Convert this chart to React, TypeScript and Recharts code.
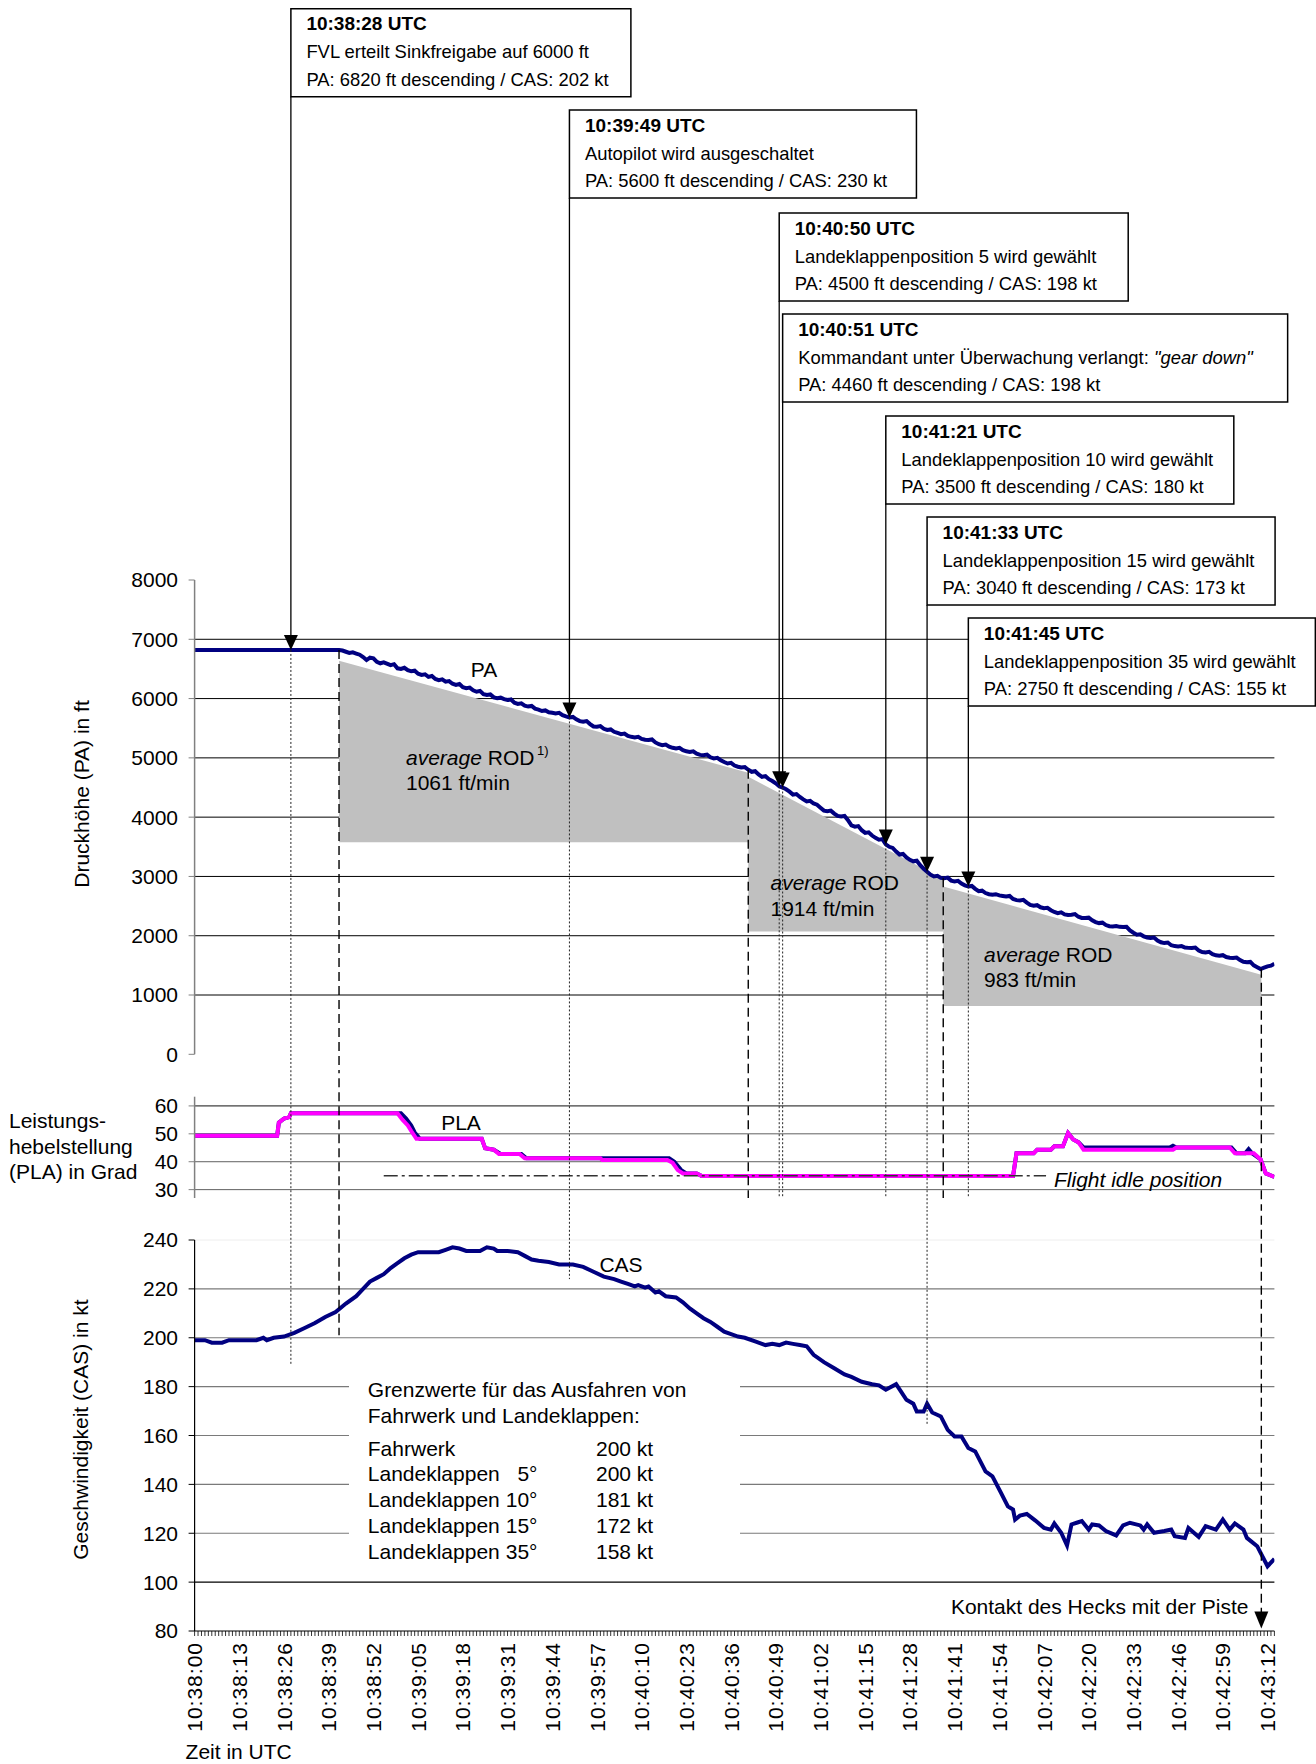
import React from 'react';
import { ComposedChart, Line, Area, XAxis, YAxis, CartesianGrid, ReferenceLine, ReferenceDot } from 'recharts';

const FONT = '"Liberation Sans", Arial, Helvetica, sans-serif';

// ---- time axis: seconds after 10:38:00 UTC ----
const X_DOMAIN: [number, number] = [0, 314];
const X_TICKS: number[] = Array.from({ length: 315 }, (_, i) => i);
const LABEL_STEP = 13;

// ---- PA (ft) [t, ft] ----
const PA_POINTS: [number, number][] = [
  [0, 6820], [20, 6820], [42, 6820], [43, 6810], [44, 6790], [45, 6770], [46, 6780], [47, 6760], [48, 6740], [49, 6700],
  [50, 6650], [51, 6690], [52, 6680], [53, 6620], [54, 6595], [55, 6610], [57, 6565], [58, 6580], [59, 6510], [60, 6500],
  [61, 6520], [62, 6480], [63, 6460], [64, 6470], [65, 6420], [66, 6400], [67, 6410], [68, 6365], [69, 6380], [70, 6330],
  [71, 6310], [72, 6325], [73, 6285], [74, 6295], [75, 6250], [76, 6230], [77, 6245], [78, 6190], [79, 6175], [80, 6185],
  [81, 6140], [82, 6115], [83, 6130], [84, 6075], [85, 6060], [86, 6070], [87, 6020], [88, 6005], [89, 6015], [90, 5990],
  [91, 5975], [92, 5985], [93, 5930], [94, 5910], [95, 5920], [96, 5880], [97, 5865], [98, 5875], [99, 5830], [100, 5815],
  [101, 5790], [102, 5800], [103, 5770], [104, 5760], [105, 5750], [106, 5760], [107, 5720], [108, 5700], [109, 5682], [110, 5690],
  [111, 5650], [112, 5620], [113, 5608], [114, 5620], [115, 5570], [116, 5530], [117, 5524], [118, 5535], [119, 5490], [120, 5470],
  [121, 5480], [122, 5440], [123, 5420], [124, 5400], [125, 5410], [126, 5370], [127, 5355], [128, 5345], [129, 5355], [130, 5320],
  [131, 5305], [132, 5300], [133, 5310], [134, 5260], [135, 5230], [136, 5215], [137, 5225], [138, 5190], [139, 5170], [140, 5160],
  [141, 5170], [142, 5130], [143, 5110], [144, 5100], [145, 5110], [146, 5070], [147, 5050], [148, 5045], [149, 5055], [150, 5010],
  [151, 4990], [152, 5000], [153, 4960], [154, 4930], [155, 4905], [156, 4915], [157, 4870], [158, 4850], [159, 4837], [160, 4845],
  [161, 4800], [162, 4765], [163, 4775], [164, 4720], [165, 4680], [166, 4690], [167, 4640], [168, 4610], [169, 4570], [170, 4520],
  [171, 4500], [172, 4470], [173, 4430], [174, 4380], [175, 4390], [176, 4340], [177, 4300], [178, 4265], [179, 4275], [180, 4230],
  [181, 4210], [182, 4160], [183, 4110], [184, 4100], [185, 4110], [186, 4060], [187, 4020], [188, 4010], [189, 4020], [190, 3950],
  [191, 3860], [192, 3840], [193, 3850], [194, 3780], [195, 3735], [196, 3745], [197, 3690], [198, 3650], [199, 3620], [200, 3630],
  [201, 3540], [202, 3500], [203, 3480], [204, 3420], [205, 3370], [206, 3380], [207, 3320], [208, 3280], [209, 3255], [210, 3265],
  [211, 3190], [212, 3130], [213, 3080], [214, 3030], [215, 3000], [216, 3010], [217, 2975], [218, 2970], [219, 2980], [220, 2930],
  [221, 2915], [222, 2925], [223, 2880], [224, 2850], [225, 2830], [226, 2840], [227, 2790], [228, 2750], [229, 2760], [230, 2720],
  [231, 2700], [232, 2690], [233, 2700], [234, 2680], [235, 2670], [236, 2660], [237, 2670], [238, 2620], [239, 2600], [240, 2595],
  [241, 2605], [242, 2560], [243, 2520], [244, 2505], [245, 2515], [246, 2480], [247, 2465], [248, 2470], [249, 2430], [250, 2400],
  [251, 2380], [252, 2395], [253, 2360], [254, 2350], [255, 2354], [256, 2365], [257, 2320], [258, 2300], [259, 2298], [260, 2305],
  [261, 2260], [262, 2230], [263, 2213], [264, 2220], [265, 2180], [266, 2160], [267, 2157], [268, 2165], [269, 2150], [270, 2146],
  [271, 2150], [272, 2090], [273, 2050], [274, 2017], [275, 2025], [276, 1990], [277, 1970], [278, 1961], [279, 1970], [280, 1920],
  [281, 1890], [282, 1876], [283, 1885], [284, 1840], [285, 1825], [286, 1820], [287, 1825], [288, 1800], [289, 1795], [290, 1792],
  [291, 1800], [292, 1750], [293, 1725], [294, 1719], [295, 1728], [296, 1690], [297, 1670], [298, 1663], [299, 1672], [300, 1640],
  [301, 1630], [302, 1624], [303, 1632], [304, 1590], [305, 1560], [306, 1551], [307, 1558], [308, 1500], [309, 1470], [310, 1438],
  [311, 1460], [312, 1483], [313, 1495], [314, 1528],
];

// ---- average ROD segments (shaded) : [tStart, topStart, tEnd, topEnd, bottom] ----
const ROD_SEGMENTS: [number, number, number, number, number][] = [
  [42, 6640, 161, 4750, 3575],
  [161, 4680, 217.7, 2955, 2070],
  [217.7, 2830, 310.2, 1343, 815],
];
const ROD_TEXT = ['1061 ft/min', '1914 ft/min', '983 ft/min'];

// ---- PLA (deg) [t, deg] ----
const PLA_ENGINE_1: [number, number][] = [
  [0, 49.3], [24, 49.3], [24.5, 54], [26, 55.5], [27.5, 56], [28, 57.4], [60, 57.4], [61.5, 55.5], [63, 53], [64, 50.5],
  [65.5, 48.2], [83.5, 48.2], [84.5, 44.8], [87, 44.3], [89, 42.8], [95, 42.8], [96.5, 41.2], [138, 41.2], [139.5, 40],
  [141.5, 37], [143, 35.8], [146, 35.8], [147.5, 34.9], [238, 34.9], [239, 43], [244, 43], [245, 44.3], [249, 44.3],
  [250, 45.5], [252.5, 45.5], [254, 50.3], [255.5, 48], [257, 47], [258.5, 45.1], [283.5, 45.1], [284.5, 45.7], [285.5, 45.1],
  [301.5, 45.1], [303, 43], [305.5, 43], [306.5, 44.5], [307.5, 43], [310, 40.8], [311.5, 35.8], [314, 34.6],
];
const PLA_ENGINE_2: [number, number][] = [
  [0, 49.3], [24, 49.3], [24.5, 54], [26, 55.5], [27.5, 56], [28, 57.4], [59, 57.4], [60.5, 55], [62, 53], [63, 51],
  [64.5, 48.2], [83.5, 48.2], [84.5, 44.8], [87, 44.3], [88.5, 42.8], [94.5, 42.8], [96, 41.2], [118, 41.2], [118.5, 40.6],
  [137.5, 40.6], [139, 39.6], [140.5, 37], [142, 35.8], [146, 35.8], [147.5, 34.9], [238, 34.9], [239, 43], [244, 43],
  [245, 44.3], [249, 44.3], [250, 45.5], [252.5, 45.5], [254, 50.3], [255.5, 48], [257, 47], [258.5, 44.3], [284.5, 44.3],
  [285.5, 45.1], [301, 45.1], [302.5, 43], [308, 43], [310, 40.8], [311.5, 35.8], [314, 34.6],
];
const FLIGHT_IDLE: [number, number][] = [[55, 35], [247.6, 35]];

// ---- CAS (kt) [t, kt] ----
const CAS_POINTS: [number, number][] = [
  [0, 199], [3, 199], [5, 198], [8, 198], [10, 199], [14, 199], [18, 199], [20, 200], [21, 199], [23, 200],
  [26, 200.5], [29, 202], [32, 204], [35, 206], [38, 208.5], [41, 210.5], [44, 214], [47, 217], [49, 220], [51, 223],
  [53, 224.5], [55, 226], [57, 228.5], [59, 230.5], [61, 232.5], [63, 234], [65, 235], [68, 235], [71, 235], [73, 236],
  [75, 237], [77, 236.5], [79, 235.5], [83, 235.5], [85, 237], [87, 236.5], [88, 235.5], [91, 235.5], [94, 235], [96, 233.5],
  [98, 232], [100, 231.5], [103, 231], [106, 230], [110, 230], [113, 229], [116, 227], [119, 225], [122, 224], [124, 223],
  [126, 222], [128, 221], [129, 221.5], [131, 220.5], [132, 221], [134, 218.5], [135, 219], [137, 217], [140, 216.5], [142, 214.5],
  [144, 212], [146, 210], [148, 208], [150, 206.5], [152, 204.5], [154, 202.5], [156, 201.5], [158, 200.5], [160, 200], [163, 198.5],
  [166, 197], [168, 197.5], [170, 197], [172, 198], [174, 197.5], [176, 197], [178, 196.5], [180, 193], [183, 190], [186, 187.5],
  [189, 185], [191, 184], [194, 182], [197, 181], [199, 180.5], [201, 178.7], [204, 181], [207, 174.6], [209, 173], [210, 169.8],
  [212, 169.8], [213, 173], [214.5, 169.4], [217, 167.8], [219, 162.3], [221, 159.6], [223, 159.6], [225, 154.9], [227, 153.5], [230, 145.3],
  [232, 143.3], [234.5, 136.5], [236.5, 131], [238, 129.7], [238.6, 125.6], [240, 127.2], [242, 127.9], [244.5, 125.2], [247, 122.2], [249, 121.5],
  [250, 124], [252, 120.2], [253.7, 115], [255, 123.6], [256.5, 124.3], [258, 125], [260, 121.5], [261, 123.6], [263, 123.2], [265, 120.9],
  [268, 119.1], [270, 123.2], [272, 124.3], [275, 123.2], [276, 121.5], [277, 123.6], [279, 120.2], [282, 120.9], [284, 121.5], [285, 118.8],
  [288, 118.1], [289, 122.2], [292, 118.5], [294, 122.9], [297, 121.5], [299, 125.6], [301, 121.5], [302.5, 124], [305, 121.5], [306, 118.1],
  [309, 114.7], [312, 106.5], [314, 109.5],
];

// ---- events (annotation boxes) ----
const EVENT_T = [28, 109, 170, 171, 201, 213, 225];
const EVENT_TITLE = ['10:38:28 UTC', '10:39:49 UTC', '10:40:50 UTC', '10:40:51 UTC', '10:41:21 UTC', '10:41:33 UTC', '10:41:45 UTC'];
const EVENT_TEXT = [
  'FVL erteilt Sinkfreigabe auf 6000 ft',
  'Autopilot wird ausgeschaltet',
  'Landeklappenposition 5 wird gewählt',
  'Kommandant unter Überwachung verlangt: ',
  'Landeklappenposition 10 wird gewählt',
  'Landeklappenposition 15 wird gewählt',
  'Landeklappenposition 35 wird gewählt',
];
const EVENT_QUOTE = ['', '', '', '"gear down"', '', '', ''];
const EVENT_STATE = [
  'PA: 6820 ft descending / CAS: 202 kt',
  'PA: 5600 ft descending / CAS: 230 kt',
  'PA: 4500 ft descending / CAS: 198 kt',
  'PA: 4460 ft descending / CAS: 198 kt',
  'PA: 3500 ft descending / CAS: 180 kt',
  'PA: 3040 ft descending / CAS: 173 kt',
  'PA: 2750 ft descending / CAS: 155 kt',
];
// where the event's guide line ends lower down: 'pla' = bottom of PLA panel, number = CAS kt
const EVENT_END: (string | number)[] = [189, 224, 'pla', 'pla', 'pla', 164, 'pla'];
const ROD_END: (string | number)[] = [201, 'pla', 'pla', 'touch'];
const TOUCHDOWN_T = 310.2;

// ---- ticks / grid ----
const PA_TICKS = [0, 1000, 2000, 3000, 4000, 5000, 6000, 7000, 8000];
const PA_GRID = [1000, 2000, 3000, 4000, 5000, 6000, 7000];
const PLA_TICKS = [30, 40, 50, 60];
const CAS_TICKS = [80, 100, 120, 140, 160, 180, 200, 220, 240];
const CAS_GRID = [120, 140, 160, 180, 200, 220];

const LIMIT_NAMES = ['Fahrwerk', 'Landeklappen', 'Landeklappen', 'Landeklappen', 'Landeklappen'];
const LIMIT_DEG = ['', '5°', '10°', '15°', '35°'];
const LIMIT_KT = ['200 kt', '200 kt', '181 kt', '172 kt', '158 kt'];

// ---- layout (pixels) ----
const W = 1308;
const PLOT_LEFT = 186.6;
const PLOT_W = 1079.8;
const YW = 60;
const ML = PLOT_LEFT - YW;
const MR = W - PLOT_LEFT - PLOT_W;
const PA_H = 1062;
const PLA_H = 140;
const CAS_H = 554;
const TOTAL_H = PA_H + PLA_H + CAS_H;
const BOX_TOP = [0.75, 102, 205, 306, 408, 509, 610];
const BOX_W = [340, 347, 349, 505, 348, 348, 347];
const BOX_H = 88;

const paData = PA_POINTS.map(([t, v]) => ({ t, v }));
const casData = CAS_POINTS.map(([t, v]) => ({ t, v }));
const pla1 = PLA_ENGINE_1.map(([t, v]) => ({ t, v }));
const pla2 = PLA_ENGINE_2.map(([t, v]) => ({ t, v }));
const idle = FLIGHT_IDLE.map(([t, v]) => ({ t, v }));
const rodData = ROD_SEGMENTS.map(([t0, y0, t1, y1, b]) => [
  { t: t0, r: [b, y0] },
  { t: t1, r: [b, y1] },
]);

const paAt = (t: number) => {
  for (let i = 0; i < PA_POINTS.length - 1; i++) {
    const [ta, va] = PA_POINTS[i];
    const [tb, vb] = PA_POINTS[i + 1];
    if (t >= ta && t <= tb) return va + ((vb - va) * (t - ta)) / (tb - ta);
  }
  return PA_POINTS[PA_POINTS.length - 1][1];
};

const fmtTime = (t: number) => {
  const total = 38 * 60 + t;
  const mm = Math.floor(total / 60);
  const ss = total % 60;
  return `10:${String(mm).padStart(2, '0')}:${String(ss).padStart(2, '0')}`;
};

const DOTTED = { stroke: '#222', strokeWidth: 1, strokeDasharray: '2 2' };
const DASHED = { stroke: '#000', strokeWidth: 1.4, strokeDasharray: '9 5' };

const yTick = { fontSize: 21, fill: '#000', fontFamily: FONT };

const TimeTick = (props: any) => {
  const { x, y, payload } = props;
  const t = payload.value;
  if (t % LABEL_STEP !== 0) return <g />;
  return (
    <text
      x={0}
      y={0}
      transform={`translate(${x},${y}) rotate(-90)`}
      textAnchor="end"
      dy="0.36em"
      fontSize={21}
      letterSpacing={1}
      fontFamily={FONT}
      fill="#000"
    >
      {fmtTime(t)}
    </text>
  );
};

const makeBox = (i: number) => (props: any) => {
  const { cx, cy } = props;
  const top = BOX_TOP[i];
  return (
    <g>
      <line x1={cx} y1={top + BOX_H} x2={cx} y2={cy - 14} stroke="#000" strokeWidth={1.3} />
      <polygon points={`${cx - 7},${cy - 15} ${cx + 7},${cy - 15} ${cx},${cy}`} fill="#000" />
      <rect x={cx} y={top} width={BOX_W[i]} height={BOX_H} fill="#fff" stroke="#000" strokeWidth={1.5} />
      <text x={cx + 15.5} y={top + 21.5} fontSize={19} fontWeight="bold" fontFamily={FONT} fill="#000">
        {EVENT_TITLE[i]}
      </text>
      <text x={cx + 15.5} y={top + 49.5} fontSize={18.4} fontFamily={FONT} fill="#000">
        {EVENT_TEXT[i]}
        {EVENT_QUOTE[i] ? <tspan fontStyle="italic">{EVENT_QUOTE[i]}</tspan> : null}
      </text>
      <text x={cx + 15.5} y={top + 77} fontSize={18.4} fontFamily={FONT} fill="#000">
        {EVENT_STATE[i]}
      </text>
    </g>
  );
};

const downArrow = (props: any) => {
  const { cx, cy } = props;
  return <polygon points={`${cx - 7},${cy - 17} ${cx + 7},${cy - 17} ${cx},${cy}`} fill="#000" />;
};

const vSeg = (t: number, yTop: number, yBot: number, style: any, key: string) => (
  <ReferenceLine
    key={key}
    segment={[{ x: t, y: yTop }, { x: t, y: yBot }]}
    ifOverflow="visible"
    {...style}
  />
);

function PAChart() {
  return (
    <ComposedChart width={W} height={PA_H} margin={{ top: 572, right: MR, bottom: 15.7, left: ML }}>
      <CartesianGrid vertical={false} horizontalValues={PA_GRID} stroke="#000" strokeWidth={1} />
      <XAxis type="number" dataKey="t" domain={X_DOMAIN} hide allowDataOverflow />
      <YAxis
        type="number"
        domain={[0, 8000]}
        ticks={PA_TICKS}
        interval={0}
        width={YW}
        tick={yTick}
        tickSize={6}
        tickMargin={10.6}
        axisLine={{ stroke: '#808080', strokeWidth: 1.5 }}
        tickLine={{ stroke: '#808080' }}
        allowDataOverflow
      />
      {rodData.map((d, i) => (
        <Area
          key={`rod${i}`}
          data={d}
          dataKey="r"
          type="linear"
          fill="#C0C0C0"
          fillOpacity={1}
          stroke="none"
          isAnimationActive={false}
          dot={false}
          activeDot={false}
        />
      ))}
      <Line data={paData} dataKey="v" type="linear" stroke="#000080" strokeWidth={4} dot={false} activeDot={false} isAnimationActive={false} />
      {ROD_SEGMENTS.map((s, i) => vSeg(s[0], paAt(s[0]), -600, DASHED, `rd${i}`))}
      {vSeg(TOUCHDOWN_T, paAt(TOUCHDOWN_T), -600, DASHED, 'td')}
      {EVENT_T.map((t, i) => vSeg(t, paAt(t), -600, DOTTED, `ev${i}`))}
      {EVENT_T.map((t, i) => (
        <ReferenceDot key={`box${i}`} x={t} y={paAt(t)} r={0} ifOverflow="visible" shape={makeBox(i)} />
      ))}
    </ComposedChart>
  );
}

function PLAChart() {
  const bottom = 27;
  const lines: any[] = [];
  EVENT_T.forEach((t, i) => {
    lines.push(vSeg(t, 90, EVENT_END[i] === 'pla' ? bottom : -20, DOTTED, `pe${i}`));
  });
  ROD_SEGMENTS.forEach((s, i) => {
    lines.push(vSeg(s[0], 90, ROD_END[i] === 'pla' ? bottom : -20, DASHED, `pr${i}`));
  });
  lines.push(vSeg(TOUCHDOWN_T, 90, -20, DASHED, 'ptd'));
  return (
    <ComposedChart width={W} height={PLA_H} margin={{ top: 26.7, right: MR, bottom: 12, left: ML }}>
      <CartesianGrid vertical={false} horizontalValues={[30, 40, 50]} stroke="#606060" strokeWidth={1} />
      <XAxis type="number" dataKey="t" domain={X_DOMAIN} hide allowDataOverflow />
      <YAxis
        type="number"
        domain={[27, 63.3]}
        ticks={PLA_TICKS}
        interval={0}
        width={YW}
        tick={yTick}
        tickSize={6}
        tickMargin={10.6}
        axisLine={{ stroke: '#808080', strokeWidth: 1.5 }}
        tickLine={{ stroke: '#808080' }}
        allowDataOverflow
      />
      <ReferenceLine y={60} stroke="#111" strokeWidth={1} />
      <Line data={pla1} dataKey="v" type="linear" stroke="#000080" strokeWidth={4} dot={false} activeDot={false} isAnimationActive={false} />
      <Line data={pla2} dataKey="v" type="linear" stroke="#FF00FF" strokeWidth={4} dot={false} activeDot={false} isAnimationActive={false} />
      <Line data={idle} dataKey="v" type="linear" stroke="#333" strokeWidth={1.6} strokeDasharray="14 4 3 4" dot={false} activeDot={false} isAnimationActive={false} />
      {lines}
    </ComposedChart>
  );
}

function CASChart() {
  const lines: any[] = [];
  EVENT_T.forEach((t, i) => {
    if (EVENT_END[i] !== 'pla') lines.push(vSeg(t, 290, EVENT_END[i] as number, DOTTED, `ce${i}`));
  });
  ROD_SEGMENTS.forEach((s, i) => {
    if (typeof ROD_END[i] === 'number') lines.push(vSeg(s[0], 290, ROD_END[i] as number, DASHED, `cr${i}`));
  });
  lines.push(vSeg(TOUCHDOWN_T, 290, 86, DASHED, 'ctd'));
  return (
    <ComposedChart width={W} height={CAS_H} margin={{ top: 30, right: MR, bottom: 13, left: ML }}>
      <CartesianGrid vertical={false} horizontalValues={CAS_GRID} stroke="#7a7a7a" strokeWidth={1.2} />
      <ReferenceLine y={240} stroke="#eeeeee" strokeWidth={1} />
      <ReferenceLine y={100} stroke="#000" strokeWidth={1.2} />
      <XAxis
        type="number"
        dataKey="t"
        domain={X_DOMAIN}
        ticks={X_TICKS}
        interval={0}
        tick={<TimeTick />}
        tickSize={5}
        tickMargin={6}
        height={120}
        axisLine={{ stroke: '#000', strokeWidth: 1.2 }}
        tickLine={{ stroke: '#000', strokeWidth: 0.8 }}
        allowDataOverflow
      />
      <YAxis
        type="number"
        domain={[80, 240]}
        ticks={CAS_TICKS}
        interval={0}
        width={YW}
        tick={yTick}
        tickSize={6}
        tickMargin={10.6}
        axisLine={{ stroke: '#000', strokeWidth: 1.2 }}
        tickLine={{ stroke: '#000' }}
        allowDataOverflow
      />
      <Line data={casData} dataKey="v" type="linear" stroke="#000080" strokeWidth={4} dot={false} activeDot={false} isAnimationActive={false} />
      {lines}
      <ReferenceDot x={TOUCHDOWN_T} y={81} r={0} ifOverflow="visible" shape={downArrow} />
    </ComposedChart>
  );
}

function Overlay() {
  const t = { fontFamily: FONT, fontSize: 21, fill: '#000' } as any;
  const rodPos = [
    [398, 749, 774],
    [762.5, 874, 900],
    [976, 946, 971],
  ];
  const rowY = [1448, 1473.5, 1499, 1525, 1551].map((v) => v - 8);
  return (
    <svg width={W} height={TOTAL_H} style={{ position: 'absolute', left: 0, top: 0, pointerEvents: 'none' }}>
      <text {...t} x={73} y={786} textAnchor="middle" dominantBaseline="central" transform="rotate(-90 73 786)">
        Druckhöhe (PA) in ft
      </text>
      <text {...t} x={73} y={1421.6} textAnchor="middle" dominantBaseline="central" transform="rotate(-90 73 1421.6)">
        Geschwindigkeit (CAS) in kt
      </text>
      <text {...t} x={1} y={1112.3} dominantBaseline="central">Leistungs-</text>
      <text {...t} x={1} y={1138.2} dominantBaseline="central">hebelstellung</text>
      <text {...t} x={1} y={1163} dominantBaseline="central">(PLA) in Grad</text>
      <text {...t} x={177.6} y={1743.3} dominantBaseline="central">Zeit in UTC</text>

      <text {...t} x={476} y={661} textAnchor="middle" dominantBaseline="central">PA</text>
      {rodPos.map(([x, y1, y2], i) => (
        <g key={i}>
          <text {...t} x={x} y={y1} dominantBaseline="central">
            <tspan fontStyle="italic">average</tspan> ROD
          </text>
          {i === 0 ? (
            <text {...t} fontSize={13} x={529} y={742} dominantBaseline="central">1)</text>
          ) : null}
          <text {...t} x={x} y={y2} dominantBaseline="central">{ROD_TEXT[i]}</text>
        </g>
      ))}
      <text {...t} x={453} y={1114.6} textAnchor="middle" dominantBaseline="central">PLA</text>
      <text {...t} x={1046} y={1171} fontStyle="italic" dominantBaseline="central">Flight idle position</text>
      <text {...t} x={613} y={1256.3} textAnchor="middle" dominantBaseline="central">CAS</text>
      <text {...t} x={1240.5} y={1598.2} textAnchor="end" dominantBaseline="central">Kontakt des Hecks mit der Piste</text>

      <rect x={341} y={1346} width={391} height={214} fill="#fff" />
      <text {...t} x={359.8} y={1381} dominantBaseline="central">Grenzwerte für das Ausfahren von</text>
      <text {...t} x={359.8} y={1407} dominantBaseline="central">Fahrwerk und Landeklappen:</text>
      {LIMIT_NAMES.map((n, i) => (
        <g key={`lim${i}`}>
          <text {...t} x={359.8} y={rowY[i]} dominantBaseline="central">{n}</text>
          <text {...t} x={529.5} y={rowY[i]} textAnchor="end" dominantBaseline="central">{LIMIT_DEG[i]}</text>
          <text {...t} x={588} y={rowY[i]} dominantBaseline="central">{LIMIT_KT[i]}</text>
        </g>
      ))}
    </svg>
  );
}

export default function App() {
  return (
    <div
      style={{
        position: 'relative',
        width: W,
        height: TOTAL_H,
        marginLeft: 8,
        marginTop: 8,
        background: '#fff',
        fontFamily: FONT,
      }}
    >
      <style>{'html, body { overflow: hidden; margin: 0; padding: 0; }'}</style>
      <div style={{ position: 'absolute', left: 0, top: 0, width: W }}>
        <PAChart />
      </div>
      <div style={{ position: 'absolute', left: 0, top: PA_H, width: W }}>
        <PLAChart />
      </div>
      <div style={{ position: 'absolute', left: 0, top: PA_H + PLA_H, width: W }}>
        <CASChart />
      </div>
      <Overlay />
    </div>
  );
}
